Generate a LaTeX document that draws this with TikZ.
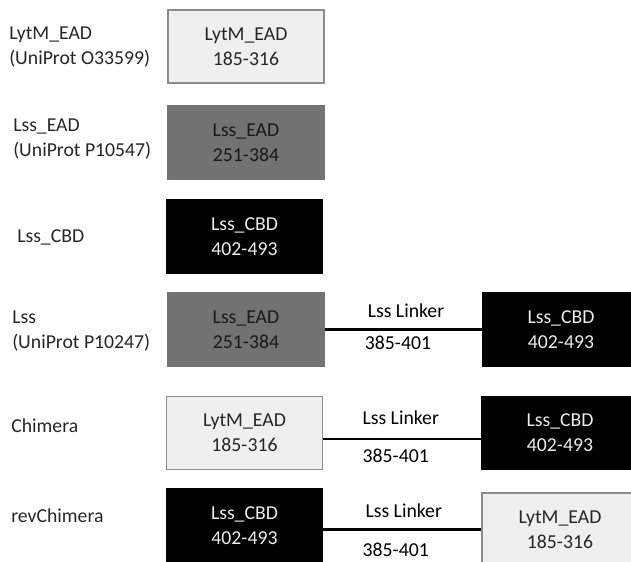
\documentclass[tikz,border=0pt]{standalone}
\usepackage{fontspec}
\setmainfont{Carlito}
\usetikzlibrary{positioning}

\definecolor{paleGray}{HTML}{EFEFEF}
\definecolor{midGray}{HTML}{727272}
\definecolor{edgeGray}{HTML}{8C8C8C}

\begin{document}
\begin{tikzpicture}[x=0.75pt,y=-0.75pt,font=\fontsize{14.8}{18.75}\selectfont,
  dom/.style={minimum width=117pt,minimum height=54.75pt,inner sep=0pt,align=center,draw,line width=0.8pt},
  lytm/.style={dom,fill=paleGray,draw=edgeGray,text=black!85},
  ead/.style={dom,fill=midGray,draw=black!55,text=black!90},
  cbd/.style={dom,fill=black,draw=black,text=white!93!black},
  tag/.style={anchor=west,align=left,inner sep=0pt,text=black!85},
  link/.style={line width=2pt}]

\useasboundingbox (0,0) rectangle (631,561);
\clip (0,0) rectangle (631,561);

% single domains
\node[tag] (t1) at (9,47.5) {LytM\_EAD\\(UniProt O33599)};
\node[lytm] (lytm1) at (246,46.5) {LytM\_EAD\\185-316};

\node[tag] (t2) at (13,139.5) {Lss\_EAD\\(UniProt P10547)};
\node[ead] (ead2) at (246,142.5) {Lss\_EAD\\251-384};

\node[tag] (t3) at (17,237) {Lss\_CBD};
\node[cbd] (cbd3) at (244.5,236.5) {Lss\_CBD\\402-493};

% Lss
\node[tag] (t4) at (12,331) {Lss\\(UniProt P10247)};
\node[ead] (ead4) at (246,329.5) {Lss\_EAD\\251-384};
\node[cbd] (cbd4) at (561,329.5) {Lss\_CBD\\402-493};
\draw[link] (ead4.east) -- node[shift={(2.5,-18.5)}] (lk4) {Lss Linker}
  node[shift={(-5.5,13.5)}] (rg4) {385-401} (cbd4.west);

% Chimera
\node[tag] (t5) at (11,426) {Chimera};
\node[lytm] (lytm5) at (244.5,433) {LytM\_EAD\\185-316};
\node[cbd] (cbd5) at (560,433) {Lss\_CBD\\402-493};
\draw[link] ([yshift=-4.5pt]lytm5.east) -- node[shift={(-1.5,-21)}] (lk5) {Lss Linker}
  node[shift={(-6.5,17)}] (rg5) {385-401} ([yshift=-4.5pt]cbd5.west);

% revChimera
\node[tag] (t6) at (11,516) {revChimera};
\node[cbd] (cbd6) at (244.5,525.5) {Lss\_CBD\\402-493};
\node[lytm] (lytm6) at (560,529.5) {LytM\_EAD\\185-316};
\draw[link] (cbd6.east |- lytm6.west) -- node[shift={(1.5,-18.5)}] (lk6) {Lss Linker}
  node[shift={(-6.5,20.5)}] (rg6) {385-401} (lytm6.west);

\end{tikzpicture}
\end{document}
